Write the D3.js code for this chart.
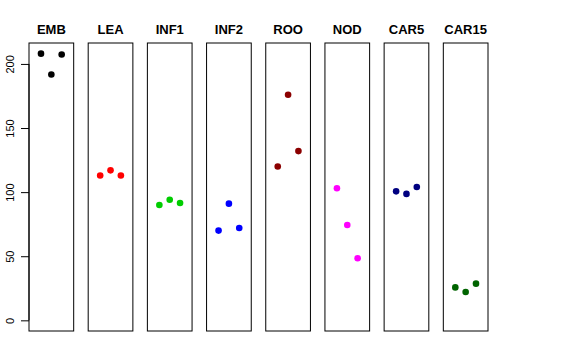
<!DOCTYPE html>
<html>
<head>
<meta charset="utf-8">
<script src="https://cdn.jsdelivr.net/npm/d3@7"></script>
<style>
  body { margin: 0; background: #fff; }
  svg { display: block; }
</style>
</head>
<body>
<div id="chart"></div>
<script>
// tissues, one panel each
const tissues = ["EMB", "LEA", "INF1", "INF2", "ROO", "NOD", "CAR5", "CAR15"];
const colors = ["#000000", "#ff0000", "#00cd00", "#0000ff", "#8b0000", "#ff00ff", "#000080", "#006400"];
// three replicates per tissue
const rep1 = [208, 113, 90, 70, 120, 103, 100.6, 25.7];
const rep2 = [191.7, 117, 94, 91, 176, 74.4, 98.6, 22.1];
const rep3 = [207.3, 113, 91.5, 72, 132, 48.4, 104, 28.6];
const yTicks = [0, 50, 100, 150, 200];

const chartWidth = 576, chartHeight = 360;
const plotTop = 43, plotBottom = 331;

const svg = d3.select("#chart")
  .append("svg")
  .attr("width", chartWidth)
  .attr("height", chartHeight);

const xPanel = d3.scaleBand()
  .domain(tissues)
  .range([29, 488])
  .paddingInner(0.245);

// R-style 4% padding on both axes
const yScale = d3.scaleLinear()
  .domain([0 - 208 * 0.04, 208 * 1.04])
  .range([plotBottom, plotTop]);

const xInner = d3.scaleLinear()
  .domain([-0.16, 4.16])
  .range([0, xPanel.bandwidth()]);

tissues.forEach((t, i) => {
  const g = svg.append("g")
    .attr("transform", "translate(" + xPanel(t) + ",0)");

  g.append("rect")
    .attr("x", 0)
    .attr("y", plotTop)
    .attr("width", xPanel.bandwidth())
    .attr("height", plotBottom - plotTop)
    .attr("fill", "none")
    .attr("stroke", "#000")
    .attr("stroke-width", 1);

  g.append("text")
    .attr("x", xPanel.bandwidth() / 2)
    .attr("y", 34)
    .attr("text-anchor", "middle")
    .attr("font-family", "Liberation Sans, Arial, sans-serif")
    .attr("font-weight", "bold")
    .attr("font-size", 13)
    .text(t);

  const vals = [rep1[i], rep2[i], rep3[i]];
  g.selectAll("circle")
    .data(vals)
    .enter()
    .append("circle")
    .attr("cx", (d, j) => xInner(j + 1))
    .attr("cy", d => yScale(d))
    .attr("r", 3.3)
    .attr("fill", colors[i]);
});

const yAxis = d3.axisLeft(yScale)
  .tickValues(yTicks)
  .tickSize(8)
  .tickPadding(0);

const ax = svg.append("g")
  .attr("transform", "translate(29,0)")
  .call(yAxis);

ax.select(".domain")
  .attr("d", "M0," + yScale(0) + "V" + yScale(200))
  .attr("stroke", "#000");

ax.selectAll(".tick line").attr("stroke", "#000");

ax.selectAll(".tick text")
  .attr("font-family", "Liberation Sans, Arial, sans-serif")
  .attr("font-size", 11)
  .attr("fill", "#000")
  .attr("text-anchor", "middle")
  .attr("x", 0)
  .attr("y", 0)
  .attr("dy", 0)
  .attr("transform", "translate(-15,0) rotate(-90)");
</script>
</body>
</html>
